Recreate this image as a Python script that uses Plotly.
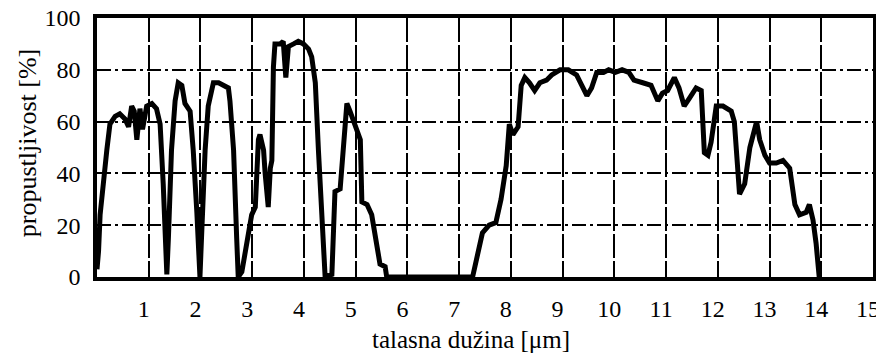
import plotly.graph_objects as go

# wavelength [um] and transmittance [%]
wavelength = [
    0.00, 0.03, 0.06, 0.12, 0.19, 0.25, 0.35, 0.44, 0.54, 0.61, 0.67, 0.72, 0.77, 0.83, 0.88, 0.96,
    1.06, 1.15, 1.22, 1.28, 1.35,
    1.38, 1.44, 1.51, 1.57, 1.64, 1.70, 1.80, 1.86, 1.93, 1.99,
    2.02, 2.09, 2.15, 2.25, 2.35, 2.44, 2.54, 2.57, 2.64, 2.70, 2.73,
    2.80, 2.90, 2.99, 3.06, 3.12, 3.15, 3.22, 3.25, 3.31, 3.35, 3.38, 3.41, 3.44, 3.54, 3.60, 3.65,
    3.70, 3.80, 3.89, 3.99, 4.09, 4.15, 4.22, 4.28, 4.35, 4.41,
    4.54, 4.60, 4.70, 4.76, 4.83, 4.89, 4.96, 5.02, 5.09, 5.12, 5.22, 5.31, 5.38, 5.47, 5.57, 5.60,
    7.26,
    7.45, 7.58, 7.71, 7.81, 7.91, 7.97, 8.04, 8.14, 8.20, 8.27, 8.36, 8.46, 8.56, 8.69, 8.79, 8.95,
    9.11, 9.27, 9.40, 9.47, 9.56, 9.66, 9.79, 9.89, 10.02, 10.15, 10.28, 10.38, 10.55, 10.71, 10.84,
    10.93, 11.03, 11.16, 11.25, 11.35, 11.45, 11.58, 11.68, 11.74, 11.81, 11.87, 11.97, 12.10, 12.26,
    12.32, 12.42, 12.52, 12.62, 12.75, 12.81, 12.91, 13.00, 13.13, 13.26, 13.39, 13.49, 13.58, 13.71,
    13.77, 13.84, 13.90, 13.96,
]
transmittance = [
    3, 10, 24, 38, 49, 59, 62, 63, 61, 58, 66, 64, 53, 65, 57, 66,
    67, 65, 59, 36, 1,
    15, 49, 68, 75, 74, 67, 64, 49, 25, 0,
    15, 49, 66, 75, 75, 74, 73, 68, 49, 15, 0,
    2, 14, 24, 27, 53, 55, 49, 40, 27, 42, 45, 81, 90, 90, 91, 77,
    89, 90, 91, 90, 88, 85, 75, 49, 23, 0,
    1, 33, 34, 50, 67, 64, 60, 58, 53, 29, 28, 24, 16, 5, 4, 0,
    0,
    17, 20, 21, 30, 43, 59, 55, 58, 74, 77, 75, 72, 75, 76, 78, 80,
    80, 78, 73, 70, 73, 79, 79, 80, 79, 80, 79, 76, 75, 74, 68,
    71, 72, 77, 73, 66, 69, 73, 72, 48, 47, 52, 66, 66, 64,
    60, 32, 36, 50, 60, 53, 47, 44, 44, 45, 42, 28, 24, 25,
    28, 22, 13, 0,
]

x_ticks = list(range(1, 16))
y_ticks = [0, 20, 40, 60, 80, 100]
x_title = "talasna dužina [μm]"
y_title = "propustljivost [%]"

FONT = "Liberation Serif"

fig = go.Figure()
fig.add_trace(go.Scatter(
    x=wavelength, y=transmittance, mode="lines",
    line=dict(color="black", width=5), showlegend=False,
))

# the page body has an 8px margin, so the figure is 8px smaller and shifted
fig.update_layout(
    width=876, height=347,
    margin=dict(l=89, r=11, t=10, b=78),
    plot_bgcolor="white", paper_bgcolor="white",
    font=dict(family=FONT, color="black", size=24),
    xaxis=dict(
        range=[0, 15], tickvals=x_ticks, ticktext=[str(v) for v in x_ticks],
        showgrid=True, gridcolor="black", gridwidth=1.5, griddash="24px,3px",
        showline=True, linecolor="black", linewidth=3.5, mirror=True,
        zeroline=False, ticks="", ticklabelstandoff=7, ticklabelshift=-5,
        ticklabeloverflow="allow", automargin=False,
        tickfont=dict(family=FONT, size=24, color="black"),
    ),
    yaxis=dict(
        range=[0, 100], tickvals=y_ticks,
        showgrid=True, gridcolor="black", gridwidth=1.5, griddash="14px,4px,3px,4px",
        showline=True, linecolor="black", linewidth=3.5, mirror=True,
        zeroline=False, ticks="", ticklabelstandoff=8, ticklabeloverflow="allow",
        automargin=False,
        tickfont=dict(family=FONT, size=24, color="black"),
    ),
    annotations=[
        dict(text=x_title, xref="paper", yref="paper", x=0.482, y=-0.243,
             xanchor="center", yanchor="middle", showarrow=False,
             font=dict(family=FONT, size=25, color="black")),
        dict(text=y_title, xref="paper", yref="paper", x=-0.090, y=0.517,
             xanchor="center", yanchor="middle", showarrow=False, textangle=-90,
             font=dict(family=FONT, size=26, color="black")),
    ],
)

fig.write_html("out.html")
